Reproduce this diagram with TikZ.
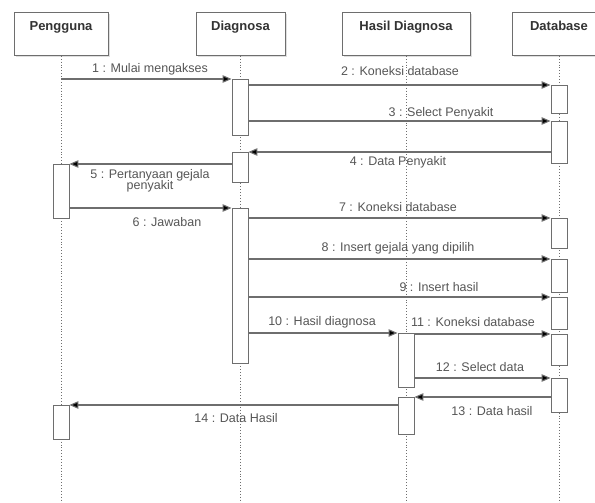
\documentclass[tikz,border=0pt]{standalone}
\usepackage{fontspec}
\setmainfont{Liberation Sans}
\usetikzlibrary{arrows.meta,shadows}
\definecolor{linegray}{HTML}{6E6E6E}
\definecolor{textgray}{HTML}{555555}
\definecolor{headgray}{HTML}{333333}
\tikzset{
  header/.style={draw=linegray, line width=0.9pt, fill=white, minimum width=94pt, minimum height=43pt,
    inner sep=0pt, text depth=16pt, font=\fontsize{13}{15}\selectfont\bfseries, text=headgray, anchor=north,
    drop shadow={shadow xshift=1.5pt, shadow yshift=-1.5pt, fill=black!25}},
  lifeline/.style={draw=linegray, line width=0.9pt, dotted},
  act/.style={draw=linegray, line width=0.9pt, fill=white, minimum width=16pt, inner sep=0pt, anchor=north},
  msg/.style={draw=linegray, line width=1.1pt, -{Triangle[length=9pt,width=7.5pt,fill=black]}},
  lbl/.style={font=\fontsize{12.5}{14}\selectfont, text=textgray, inner sep=0pt, align=center},
}
\begin{document}
\begin{tikzpicture}[x=1pt,y=-1pt]
\useasboundingbox (0,0) rectangle (595,503);

% participants
\node[header] (pen) at (61,12) {Pengguna};
\node[header, minimum width=89pt] (dia) at (240.5,12) {Diagnosa};
\node[header, minimum width=128pt] (has) at (406,12) {Hasil Diagnosa};
\node[header] (dat) at (559,12) {Database};

% lifelines
\coordinate (penE) at (61,503);
\coordinate (diaE) at (240,503);
\coordinate (hasE) at (406,503);
\coordinate (datE) at (559,503);
\draw[lifeline] (pen.south -| penE) -- (penE);
\draw[lifeline] (dia.south -| diaE) -- (diaE);
\draw[lifeline] (has.south) -- (hasE);
\draw[lifeline] (dat.south) -- (datE);

% activation bars
\node[act, minimum height=56pt] (d1) at (240,79) {};
\node[act, minimum height=30pt] (d2) at (240,152) {};
\node[act, minimum height=155pt] (d3) at (240,208) {};
\node[act, minimum height=54pt] (p1) at (61,164) {};
\node[act, minimum height=34pt] (p2) at (61,405) {};
\node[act, minimum height=54pt] (h1) at (406,333) {};
\node[act, minimum height=37pt] (h2) at (406,397) {};
\node[act, minimum height=28pt] (b1) at (559,85) {};
\node[act, minimum height=42pt] (b2) at (559,121) {};
\node[act, minimum height=30pt] (b3) at (559,218) {};
\node[act, minimum height=33pt] (b4) at (559,259) {};
\node[act, minimum height=32pt] (b5) at (559,297) {};
\node[act, minimum height=31pt] (b6) at (559,334) {};
\node[act, minimum height=34pt] (b7) at (559,378) {};

% message end points that are not on a bar corner
\coordinate (m1s) at (61,79);
\coordinate (m2s) at (248,85);
\coordinate (m3s) at (248,121);
\coordinate (m4s) at (551,152);
\coordinate (m5s) at (232,164);
\coordinate (m6s) at (69,208);
\coordinate (m7s) at (248,218);
\coordinate (m8s) at (248,259);
\coordinate (m9s) at (248,297);
\coordinate (m10s) at (248,333);
\coordinate (m11s) at (414,334);
\coordinate (m12s) at (414,378);
\coordinate (m13s) at (551,397);
\coordinate (m14s) at (398,405);

% messages
\draw[msg] (m1s) -- (d1.north west);
\draw[msg] (m2s) -- (b1.north west);
\draw[msg] (m3s) -- (b2.north west);
\draw[msg] (m4s) -- (d2.north east);
\draw[msg] (m5s) -- (p1.north east);
\draw[msg] (m6s) -- (d3.north west);
\draw[msg] (m7s) -- (b3.north west);
\draw[msg] (m8s) -- (b4.north west);
\draw[msg] (m9s) -- (b5.north west);
\draw[msg] (m10s) -- (h1.north west);
\draw[msg] (m11s) -- (b6.north west);
\draw[msg] (m12s) -- (b7.north west);
\draw[msg] (m13s) -- (h2.north east);
\draw[msg] (m14s) -- (p2.north east);

% message labels
\node[lbl] (l1) at (150,69) {1 : Mulai mengakses};
\node[lbl] (l2) at (400,71) {2 : Koneksi database};
\node[lbl] (l3) at (441,113) {3 : Select Penyakit};
\node[lbl] (l4) at (398,162) {4 : Data Penyakit};
\node[lbl, text height=9pt] (l5) at (150,186) {5 : Pertanyaan gejala\\[-3pt]penyakit};
\node[lbl] (l6) at (167,222) {6 : Jawaban};
\node[lbl] (l7) at (398,207) {7 : Koneksi database};
\node[lbl] (l8) at (398,248) {8 : Insert gejala yang dipilih};
\node[lbl] (l9) at (439,287) {9 : Insert hasil};
\node[lbl] (l10) at (322,322) {10 : Hasil diagnosa};
\node[lbl] (l11) at (473,322) {11 : Koneksi database};
\node[lbl] (l12) at (480,367) {12 : Select data};
\node[lbl] (l13) at (492,411) {13 : Data hasil};
\node[lbl] (l14) at (236,418) {14 : Data Hasil};
\end{tikzpicture}
\end{document}
